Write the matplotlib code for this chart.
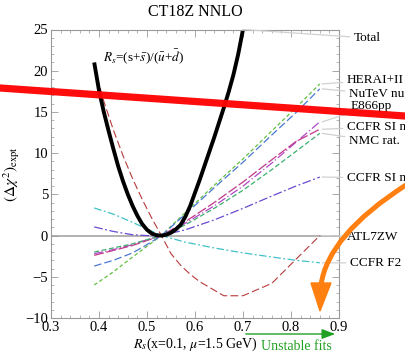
import numpy as np
import matplotlib
matplotlib.use('Agg')
import matplotlib.pyplot as plt
from matplotlib.lines import Line2D
from matplotlib.path import Path
from matplotlib.patches import PathPatch, Polygon, FancyArrowPatch

plt.rcParams['font.family'] = ['Liberation Serif', 'DejaVu Serif']
plt.rcParams['mathtext.fontset'] = 'stix'

# data
x_total = [0.39, 0.40, 0.41, 0.42, 0.43, 0.44, 0.45, 0.46, 0.47, 0.48, 0.49, 0.50, 0.51,
           0.52, 0.53, 0.54, 0.55, 0.56, 0.57, 0.58, 0.59, 0.60, 0.61, 0.62, 0.63, 0.64,
           0.65, 0.66, 0.67, 0.68, 0.69, 0.70, 0.705]
y_total = [21.0, 17.6, 15.0, 12.7, 10.5, 8.4, 6.6, 5.0, 3.6, 2.4, 1.4, 0.7, 0.25,
           0.03, 0.0, 0.1, 0.35, 0.75, 1.3, 2.3, 3.6, 5.2, 6.8, 8.5, 10.2, 11.9,
           13.7, 15.5, 17.4, 19.5, 22.0, 25.0, 26.5]

x_atl = [0.39, 0.41, 0.43, 0.45, 0.47, 0.49, 0.51, 0.53, 0.55, 0.57, 0.59, 0.61, 0.66, 0.70, 0.76, 0.86]
y_atl = [20.5, 16.3, 12.8, 9.7, 6.9, 4.4, 2.1, 0.0, -2.2, -3.6, -4.7, -5.6, -7.3, -7.3, -5.8, 0.0]

x_grid = [0.39, 0.43, 0.47, 0.50, 0.53, 0.58, 0.64, 0.70, 0.76, 0.81, 0.86]
y_hera = [-6.0, -4.4, -2.6, -1.3, 0.0, 2.8, 6.1, 9.3, 12.7, 15.5, 18.4]
y_nutev = [-3.7, -3.0, -2.1, -1.1, 0.0, 2.6, 5.8, 8.9, 12.2, 14.9, 17.8]
y_e866 = [-2.2, -1.7, -1.1, -0.5, 0.0, 1.5, 3.6, 6.0, 8.8, 11.3, 13.8]
y_ccfr_nu = [-2.4, -1.8, -1.2, -0.6, 0.0, 1.7, 4.0, 6.5, 9.2, 11.4, 12.9]
y_nmc = [-2.0, -1.5, -1.0, -0.5, 0.0, 1.3, 3.3, 5.5, 8.0, 10.2, 12.4]
y_ccfr_nub = [1.05, 0.5, 0.1, 0.0, 0.0, 0.7, 1.9, 3.3, 4.8, 6.0, 7.1]
y_ccfr_f2 = [3.35, 2.6, 1.6, 0.8, 0.0, -0.8, -1.5, -2.1, -2.6, -3.0, -3.3]

labels = ['Total', 'HERAI+II', 'NuTeV nu', 'E866pp', 'CCFR SI nu', 'NMC rat.',
          'CCFR SI nub', 'ATL7ZW', 'CCFR F2']
label_x = [354, 347, 349, 351, 347, 349, 347, 347, 350]   # label left edges, pixels
label_y = [38, 80, 94, 106, 127, 141, 178, 237, 263]      # label centres, pixels from top

fig = plt.figure(figsize=(4.05, 3.53), dpi=100)
ax = fig.add_axes([51/405, 35/353, 288/405, 288.5/353])

ax.axhline(0, color='0.65', lw=1.2, zorder=1)

ax.plot(x_atl, y_atl, color='#b83a3a', lw=0.8, dashes=(7, 3))
ax.plot(x_grid, y_hera, color='#62c040', lw=0.9, dashes=(3, 2))
ax.plot(x_grid, y_nutev, color='#4a78d0', lw=0.9, dashes=(6, 2.5))
ax.plot(x_grid, y_e866, color='#b048c8', lw=0.9, dashes=(7, 2, 1, 2))
ax.plot(x_grid, y_ccfr_nu, color='#c0388a', lw=0.9, dashes=(8, 2))
ax.plot(x_grid, y_nmc, color='#3cb070', lw=0.9, dashes=(4, 2))
ax.plot(x_grid, y_ccfr_nub, color='#6a4ad0', lw=0.9, dashes=(7, 2, 1.5, 2))
ax.plot(x_grid, y_ccfr_f2, color='#40c0c8', lw=0.9, dashes=(6, 2, 1.5, 2))
ax.plot(x_total, y_total, color='black', lw=2.8, solid_capstyle='butt')

ax.set_xlim(0.3, 0.9)
ax.set_ylim(-10, 25)
ax.set_xticks(np.arange(0.3, 0.91, 0.1))
ax.set_xticks(np.arange(0.3, 0.9, 0.02), minor=True)
ax.set_yticks(np.arange(-10, 26, 5))
ax.set_yticks(np.arange(-10, 26, 1), minor=True)
ax.set_xticklabels(['0.3', '0.4', '0.5', '0.6', '0.7', '0.8', '0.9'])
ax.tick_params(which='both', direction='in', top=True, right=True, color='0.6',
               labelsize=10.5, pad=2)
ax.tick_params(which='major', length=5, width=0.6)
ax.tick_params(which='minor', length=2.5, width=0.5)
for s in ax.spines.values():
    s.set_color('0.6')
    s.set_linewidth(0.8)

ax.set_xlabel(r'$R_s$(x=0.1, $\mu$=1.5 GeV)', fontsize=10, labelpad=1)
ax.set_ylabel(r'$(\Delta\chi^2)_{\rm expt}$', fontsize=11)
ax.yaxis.set_label_coords(-0.1, 0.5)
fig.text(195/405, 1 - 12/353, 'CT18Z NNLO', ha='center', va='center', fontsize=11.5)
fig.text(103/405, 1 - 57/353, r'$R_s$=(s+$\bar{s}$)/($\bar{u}$+$\bar{d}$)',
         ha='left', va='center', fontsize=9.5)

# leader lines and labels on the right
ends = [(0.70, 25.0), (0.865, y_hera[-1]), (0.865, y_nutev[-1]), (0.865, y_e866[-1]),
        (0.865, y_ccfr_nu[-1]), (0.865, y_nmc[-1]), (0.865, y_ccfr_nub[-1]),
        (0.865, y_atl[-1]), (0.865, y_ccfr_f2[-1])]
for lab, lx, ly, xy in zip(labels, label_x, label_y, ends):
    ax.annotate(lab, xy=xy, xytext=(lx, 353 - ly), textcoords='figure pixels',
                ha='left', va='center', fontsize=9.5,
                arrowprops=dict(arrowstyle='-', color='0.82', lw=0.9,
                                shrinkA=1, shrinkB=0),
                annotation_clip=False)

# green arrow under the axis
fig.add_artist(FancyArrowPatch((243, 353 - 334), (338, 353 - 334), transform=None,
                               arrowstyle='-|>,head_width=3,head_length=8',
                               color='#22a022', lw=1.0))
fig.text(296/405, 1 - 347/353, 'Unstable fits', ha='center', va='center',
         fontsize=10, color='#22a022')

# orange curved arrow
verts = [(406, 353 - 185), (328, 353 - 235), (321, 353 - 285)]
pp = PathPatch(Path(verts, [Path.MOVETO, Path.CURVE3, Path.CURVE3]), transform=None,
               fill=False, edgecolor='#ff7f10', lw=3.6)
fig.add_artist(pp)
fig.add_artist(Polygon([(311, 353 - 283), (331, 353 - 283), (320, 353 - 311)],
                       closed=True, transform=None, color='#ff7f10'))

# thick red line across the figure
fig.add_artist(Line2D([0, 405], [353 - 88, 353 - 116], transform=None,
                      color='#ff0000', lw=5.2, alpha=0.95))

fig.savefig('out.png', dpi=100)
